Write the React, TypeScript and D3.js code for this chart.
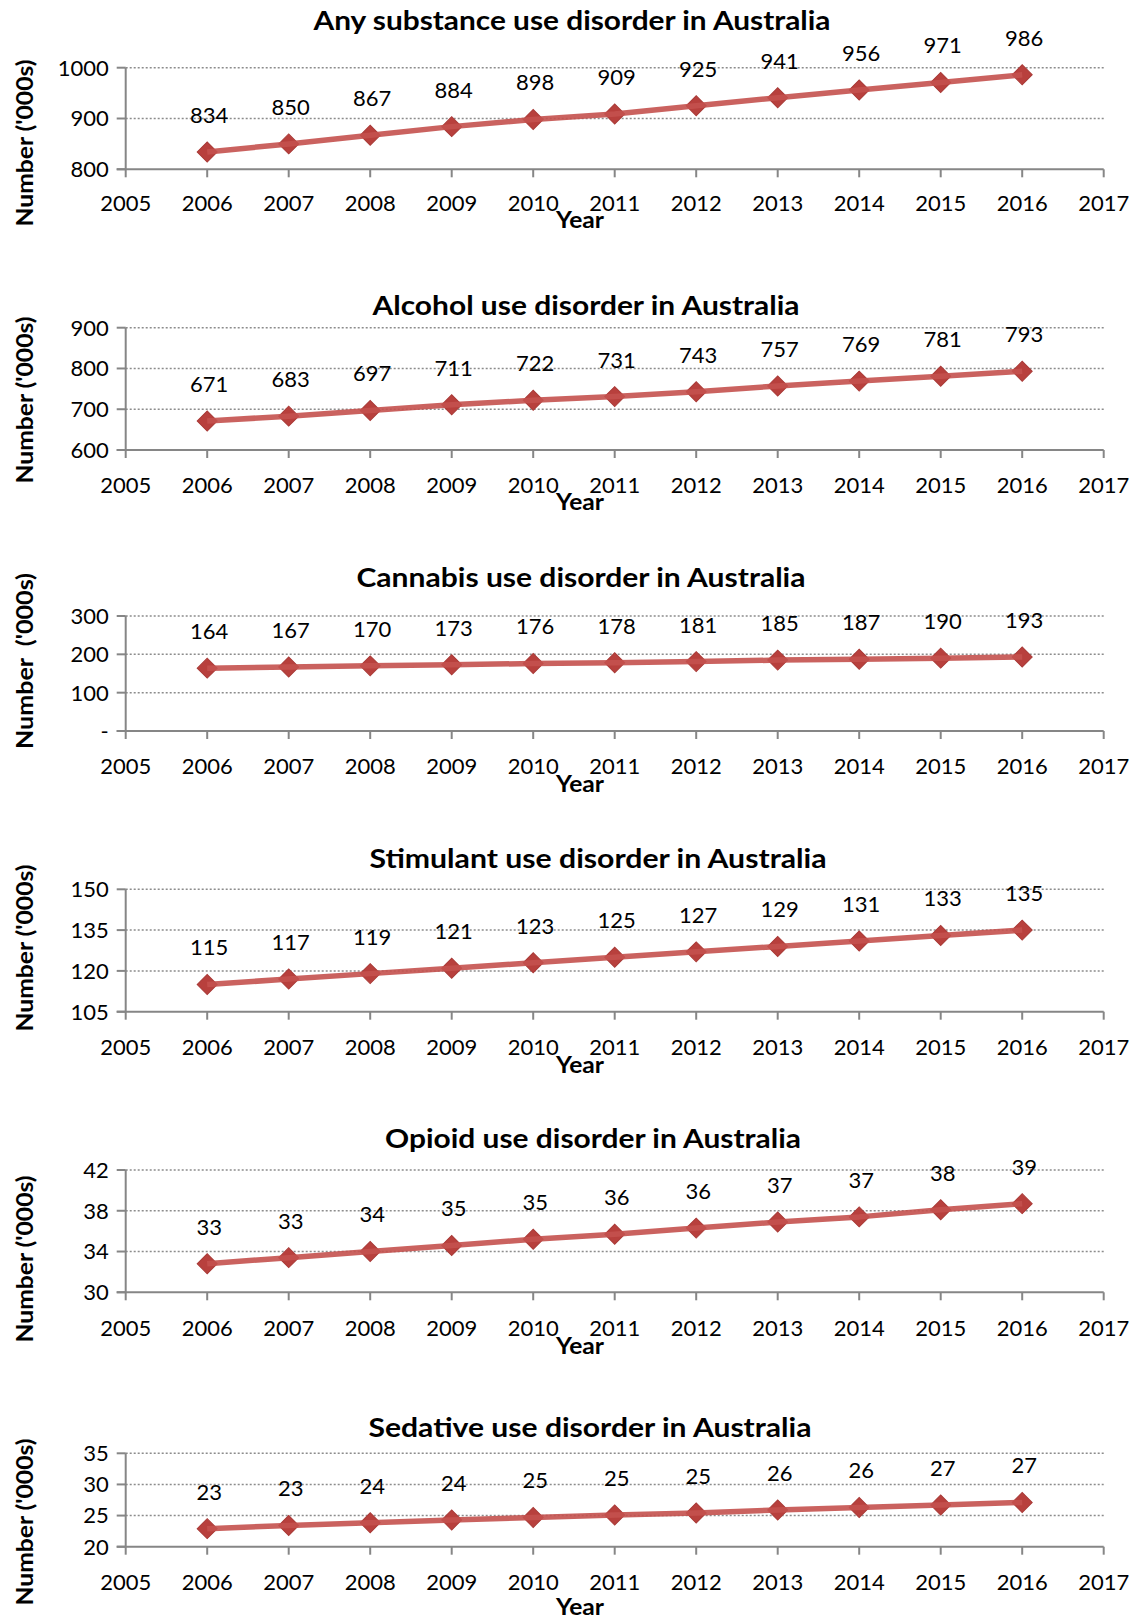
import React from 'react';
import * as d3 from 'd3';

// ---- data ----
const years = [2006, 2007, 2008, 2009, 2010, 2011, 2012, 2013, 2014, 2015, 2016];
const xTicks = [2005, 2006, 2007, 2008, 2009, 2010, 2011, 2012, 2013, 2014, 2015, 2016, 2017];

const anyValues = [834, 850, 867, 884, 898, 909, 925, 941, 956, 971, 986];
const alcoholValues = [671, 683, 697, 711, 722, 731, 743, 757, 769, 781, 793];
const cannabisValues = [164, 167, 170, 173, 176, 178, 181, 185, 187, 190, 193];
const stimulantValues = [115, 117, 119, 121, 123, 125, 127, 129, 131, 133, 135];
const opioidValues = [32.8, 33.4, 34.0, 34.6, 35.2, 35.7, 36.3, 36.9, 37.4, 38.1, 38.7];
const sedativeValues = [22.9, 23.4, 23.85, 24.3, 24.7, 25.1, 25.4, 25.9, 26.3, 26.7, 27.1];

const anyTicks = [800, 900, 1000];
const alcoholTicks = [600, 700, 800, 900];
const cannabisTicks = [0, 100, 200, 300];
const stimulantTicks = [105, 120, 135, 150];
const opioidTicks = [30, 34, 38, 42];
const sedativeTicks = [20, 25, 30, 35];

const titles = [
  'Any substance use disorder in Australia',
  'Alcohol use disorder in Australia',
  'Cannabis use disorder in Australia',
  'Stimulant use disorder in Australia',
  'Opioid use disorder in Australia',
  'Sedative use disorder in Australia',
];

// ---- layout (pixel positions of each panel) ----
const panels = [
  { values: anyValues, ticks: anyTicks, top: 67.7, bottom: 169.3, titleY: 21, titleX: 572, titleW: 517, tickY: 203, yearY: 220, labelY: 143, yLabel: "Number ('000s)", yLabelW: 167 },
  { values: alcoholValues, ticks: alcoholTicks, top: 327.7, bottom: 450, titleY: 306, titleX: 586, titleW: 427, tickY: 485, yearY: 502, labelY: 400, yLabel: "Number ('000s)", yLabelW: 167 },
  { values: cannabisValues, ticks: cannabisTicks, top: 616, bottom: 731, titleY: 578, titleX: 581, titleW: 449, tickY: 766, yearY: 784, labelY: 661, yLabel: "Number\u00a0 ('000s)", yLabelW: 176 },
  { values: stimulantValues, ticks: stimulantTicks, top: 889.3, bottom: 1011.7, titleY: 859, titleX: 598, titleW: 457, tickY: 1047, yearY: 1065, labelY: 948, yLabel: "Number ('000s)", yLabelW: 167 },
  { values: opioidValues, ticks: opioidTicks, top: 1170, bottom: 1292.3, titleY: 1139, titleX: 593, titleW: 416, tickY: 1328, yearY: 1346, labelY: 1259, yLabel: "Number ('000s)", yLabelW: 167 },
  { values: sedativeValues, ticks: sedativeTicks, top: 1453.3, bottom: 1546.7, titleY: 1428, titleX: 590, titleW: 443, tickY: 1582, yearY: 1607, labelY: 1522, yLabel: "Number ('000s)", yLabelW: 167 },
];

const W = 1137;
const H = 1620;
const axisColor = '#868686';
const red = '#c4514e';
const font = 'Lato, "Open Sans", sans-serif';

const x = d3.scaleLinear().domain([2005, 2017]).range([125.7, 1103.7]);
const diamond = d3.symbol().type(d3.symbolSquare).size(200)();
const fmt = (v: number) => (v === 0 ? '-' : d3.format('d')(v));

const Panel: React.FC<{ p: typeof panels[number]; title: string }> = ({ p, title }) => {
  const y = d3.scaleLinear().domain(d3.extent(p.ticks) as [number, number]).range([p.bottom, p.top]);
  const line = d3.line<number>().x((_, i) => x(years[i])).y(d => y(d));
  const x0 = x.range()[0];
  const x1 = x.range()[1];
  return (
    <g>
      <text x={p.titleX} y={p.titleY} dy="0.36em" textAnchor="middle" fontSize={26} fontWeight="bold" fontFamily={font}
        textLength={p.titleW} lengthAdjust="spacingAndGlyphs">{title}</text>

      {/* gridlines */}
      {p.ticks.slice(1).map(t => (
        <line key={'g' + t} x1={x0} x2={x1} y1={y(t)} y2={y(t)} stroke="#8c8c8c" strokeWidth={1.5} strokeDasharray="2,2" />
      ))}

      {/* y axis */}
      <line x1={x0} x2={x0} y1={p.top} y2={p.bottom} stroke={axisColor} strokeWidth={2} />
      {p.ticks.map(t => (
        <g key={'y' + t}>
          <line x1={x0 - 9} x2={x0} y1={y(t)} y2={y(t)} stroke={axisColor} strokeWidth={2} />
          <text x={x0 - 17} y={y(t)} dy="0.36em" textAnchor="end" fontSize={22} fontFamily={font}>{fmt(t)}</text>
        </g>
      ))}

      {/* x axis */}
      <line x1={x0 - 9} x2={x1} y1={p.bottom} y2={p.bottom} stroke={axisColor} strokeWidth={2} />
      {xTicks.map(t => (
        <g key={'x' + t}>
          <line x1={x(t)} x2={x(t)} y1={p.bottom} y2={p.bottom + 8} stroke={axisColor} strokeWidth={2} />
          <text x={x(t)} y={p.tickY} dy="0.36em" textAnchor="middle" fontSize={22} fontFamily={font}>{t}</text>
        </g>
      ))}
      <text x={556} y={p.yearY} dy="0.36em" fontSize={22} fontWeight="bold" fontFamily={font}
        textLength={48} lengthAdjust="spacingAndGlyphs">Year</text>

      <text transform={`translate(25,${p.labelY}) rotate(-90)`} dy="0.36em" textAnchor="middle" fontSize={23} fontWeight="bold" fontFamily={font}
        textLength={p.yLabelW} lengthAdjust="spacingAndGlyphs">{p.yLabel}</text>

      {/* markers then line */}
      {p.values.map((v, i) => (
        <path key={'m' + i} d={diamond || ''} transform={`translate(${x(years[i])},${y(v)}) rotate(45)`} fill="#b8403d" stroke="#a93a37" strokeWidth={1} />
      ))}
      <path d={line(p.values) || ''} fill="none" stroke={red} strokeOpacity={0.9} strokeWidth={5.5} strokeLinejoin="round" />

      {/* data labels */}
      {p.values.map((v, i) => (
        <text key={'l' + i} x={x(years[i]) + 2} y={y(v) - 37} dy="0.36em" textAnchor="middle" fontSize={22} fontFamily={font}>{Math.round(v)}</text>
      ))}
    </g>
  );
};

export default function App() {
  return (
    <svg width={W} height={H} style={{ position: 'absolute', left: 0, top: 0, background: '#fff' }}>
      <rect width={W} height={H} fill="#fff" />
      {panels.map((p, i) => (
        <Panel key={i} p={p} title={titles[i]} />
      ))}
    </svg>
  );
}
